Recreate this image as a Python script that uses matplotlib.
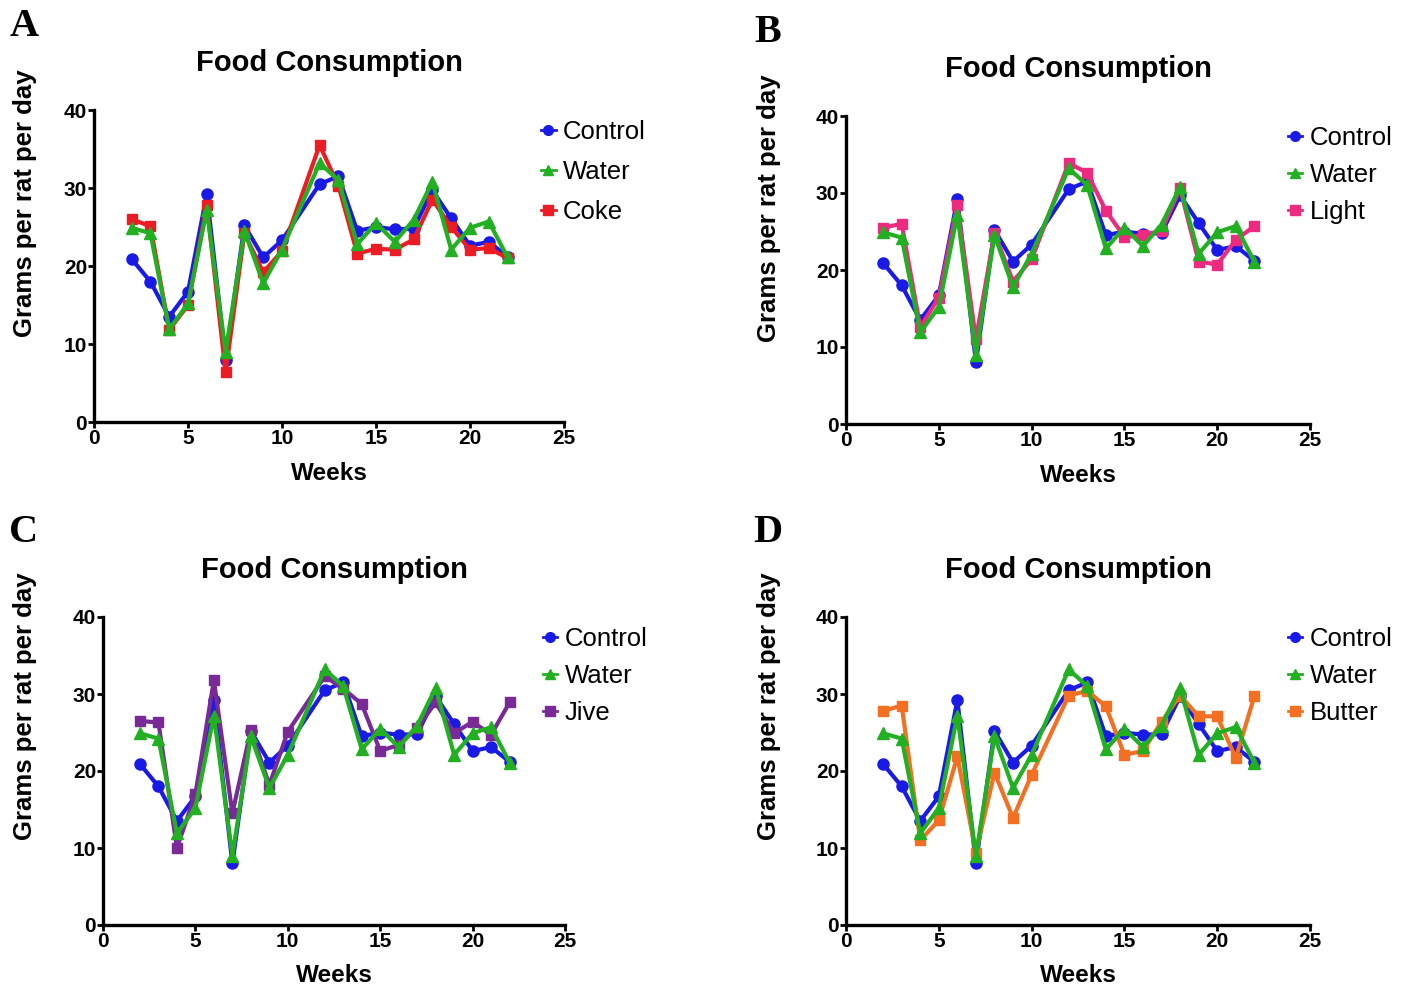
import matplotlib
matplotlib.use("Agg")
import matplotlib.pyplot as plt
from matplotlib.lines import Line2D

# weekly food intake (g per rat per day); no reading at week 11
weeks = [2, 3, 4, 5, 6, 7, 8, 9, 10, 12, 13, 14, 15, 16, 17, 18, 19, 20, 21, 22]

control = [20.9, 18.0, 13.5, 16.7, 29.2, 8.0, 25.2, 21.1, 23.3, 30.5,
           31.5, 24.5, 25.0, 24.7, 24.8, 29.7, 26.1, 22.6, 23.1, 21.2]
water = [24.9, 24.2, 11.9, 15.2, 27.2, 9.0, 24.5, 17.8, 22.1, 33.2,
         31.0, 22.8, 25.5, 23.1, 25.9, 30.8, 22.1, 24.9, 25.7, 21.1]
coke = [26.0, 25.1, 11.8, 15.0, 27.8, 6.4, 24.2, 19.2, 21.9, 35.5,
        30.3, 21.6, 22.2, 22.1, 23.4, 28.5, 25.0, 22.1, 22.3, 21.0]
light = [25.5, 26.0, 12.6, 16.4, 28.4, 11.0, 24.8, 18.5, 21.4, 33.9,
         32.6, 27.7, 24.3, 24.5, 25.1, 30.6, 21.1, 20.7, 23.9, 25.7]
jive = [26.5, 26.3, 10.0, 17.0, 31.8, 14.5, 25.3, 18.2, 25.1, 32.3,
        30.7, 28.7, 22.6, 23.4, 25.6, 28.9, 24.9, 26.4, 24.7, 28.9]
butter = [27.8, 28.5, 11.0, 13.6, 21.9, 9.4, 19.8, 13.9, 19.5, 29.8,
          30.4, 28.4, 22.1, 22.6, 26.4, 29.8, 27.1, 27.1, 21.7, 29.7]

panel_letters = ["A", "B", "C", "D"]
treat_names = ["Coke", "Light", "Jive", "Butter"]
treat_values = [coke, light, jive, butter]
treat_colors = ["#ec1c24", "#ec2a80", "#7a2a96", "#f36f21"]

BLUE = "#1a1ae6"
GREEN = "#22b022"

plt.rcParams["font.family"] = ["Liberation Sans", "DejaVu Sans"]

W, H = 1404, 986
fig = plt.figure(figsize=(W / 100, H / 100), dpi=100)

# axes boxes in pixels: (x at 0, x at 25, y at 40, y at 0)
boxes = [(94, 564, 110, 422), (846, 1310, 116, 424),
         (103, 565, 617, 925), (846, 1310, 617, 925)]
letter_pos = [(24, 27), (768, 33), (24, 532), (768, 532)]
legend_space = [0.62, 0.5, 0.5, 0.5]


def px_axes(x0, x1, ytop, ybot):
    return [x0 / W, 1 - ybot / H, (x1 - x0) / W, (ybot - ytop) / H]


for i, (x0, x1, ytop, ybot) in enumerate(boxes):
    ax = fig.add_axes(px_axes(x0, x1, ytop, ybot))
    hpx = ybot - ytop
    wpx = x1 - x0

    ax.plot(weeks, control, color=BLUE, lw=3.0, marker="o", ms=8,
            label="Control", zorder=3)
    ax.plot(weeks, treat_values[i], color=treat_colors[i], lw=3.0,
            marker="s", ms=7.5, label=treat_names[i], zorder=4)
    ax.plot(weeks, water, color=GREEN, lw=3.0, marker="^", ms=8.5,
            label="Water", zorder=5)

    ax.set_xlim(0, 25)
    ax.set_ylim(0, 40)
    ax.set_xticks([0, 5, 10, 15, 20, 25])
    ax.set_yticks([0, 10, 20, 30, 40])
    for s in ("top", "right"):
        ax.spines[s].set_visible(False)
    for s in ("left", "bottom"):
        ax.spines[s].set_linewidth(2.4)
    ax.tick_params(direction="out", length=4, width=2, pad=1,
                   labelsize=15)
    for lab in ax.get_xticklabels() + ax.get_yticklabels():
        lab.set_fontweight("bold")

    ax.text(0.5, 1 + 47 / hpx, "Food Consumption", transform=ax.transAxes,
            ha="center", va="center", fontsize=21, fontweight="bold")
    ax.text(0.5, -51 / hpx, "Weeks", transform=ax.transAxes,
            ha="center", va="center", fontsize=17.5, fontweight="bold")
    ax.text(-(x0 - (25 if i in (0, 2) else 769)) / wpx,
            0.70 if i < 2 else 0.71, "Grams per rat per day",
            transform=ax.transAxes, rotation=90, ha="center", va="center",
            fontsize=18.5, fontweight="bold")

    handles = [
        Line2D([], [], color=BLUE, lw=2, marker="o", ms=7),
        Line2D([], [], color=GREEN, lw=2, marker="^", ms=7.5),
        Line2D([], [], color=treat_colors[i], lw=2, marker="s", ms=7),
    ]
    ax.legend(handles, ["Control", "Water", treat_names[i]],
              loc="upper left", bbox_to_anchor=(0.93, 1.0), frameon=False,
              fontsize=18.5, handlelength=0.55, handletextpad=0.3,
              labelspacing=legend_space[i], borderaxespad=0.0)

    lx, ly = letter_pos[i]
    fig.text(lx / W, 1 - ly / H, panel_letters[i], ha="center", va="center",
             fontsize=29, fontweight="bold",
             family=["Liberation Serif", "DejaVu Serif"])

fig.savefig("out.png", dpi=100)
